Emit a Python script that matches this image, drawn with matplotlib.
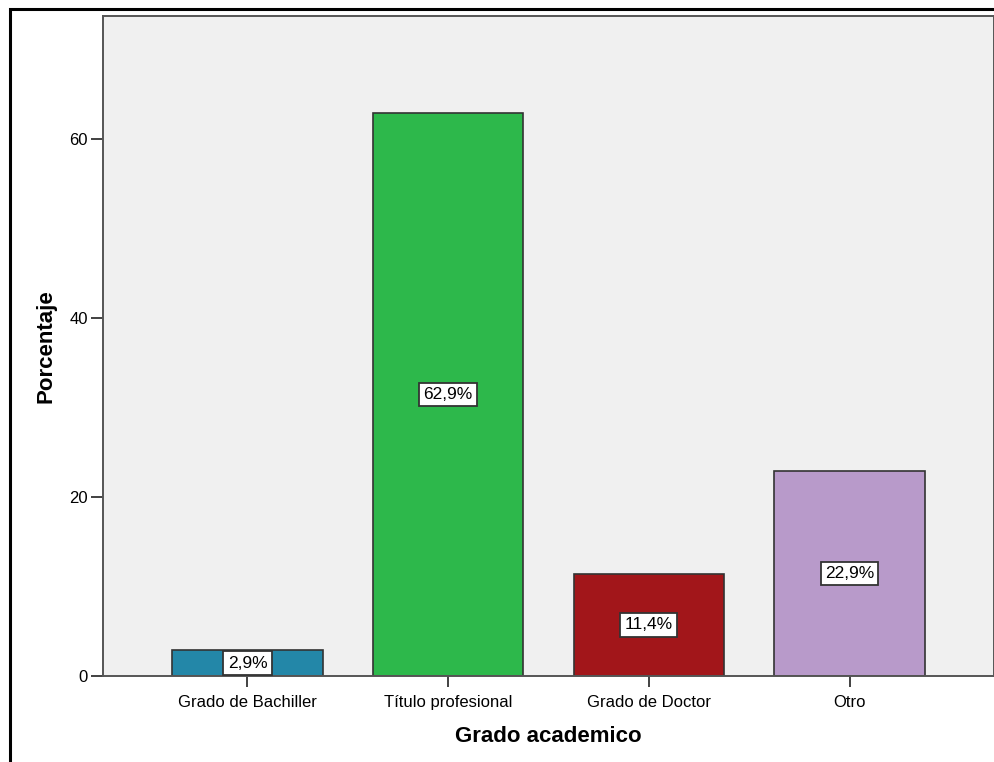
import matplotlib.pyplot as plt
from matplotlib.patches import Rectangle

plt.rcParams['font.family'] = ['Liberation Sans', 'DejaVu Sans']

categories = ['Grado de Bachiller', 'Título profesional', 'Grado de Doctor', 'Otro']
percentages = [2.9, 62.9, 11.4, 22.9]
bar_colors = ['#2387A8', '#2DB84B', '#A2161A', '#B89ACA']
y_ticks = [0, 20, 40, 60]

W, H = 995, 762
fig = plt.figure(figsize=(W / 100, H / 100), dpi=100, facecolor='white')

# black frame around the chart
fig.add_artist(Rectangle((10 / W, -0.01), 1.0, 1 - 9 / H + 0.01, transform=fig.transFigure,
                         fill=False, edgecolor='black', linewidth=2.2))

left, right, top, bottom = 103, 994, 16, 676
ax = fig.add_axes([left / W, 1 - bottom / H, (right - left) / W, (bottom - top) / H])
ax.set_facecolor('#F0F0F0')

x = range(len(categories))
bars = ax.bar(x, percentages, width=0.75, color=bar_colors, edgecolor='#333333', linewidth=1.2, zorder=2)

for i, v in enumerate(percentages):
    ax.text(i, v / 2, ('%.1f%%' % v).replace('.', ','), ha='center', va='center', fontsize=12.5,
            color='black', zorder=3,
            bbox=dict(boxstyle='square,pad=0.25', facecolor='white', edgecolor='#333333', linewidth=1.3))

ax.set_xlim(-0.72, 3.72)
ax.set_ylim(0, 73.7)
ax.set_xticks(list(x))
ax.set_xticklabels(categories, fontsize=12)
ax.set_yticks(y_ticks)
ax.tick_params(axis='y', labelsize=12, length=9, width=1.3, color='#333333', pad=2)
ax.tick_params(axis='x', length=8, width=1.3, color='#333333', pad=6)

for side in ['left', 'top', 'bottom', 'right']:
    ax.spines[side].set_color('#555555')
    ax.spines[side].set_linewidth(1.4)

ax.set_xlabel('Grado academico', fontsize=16, fontweight='bold', labelpad=11)
ax.set_ylabel('Porcentaje', fontsize=16, fontweight='bold', labelpad=9)

fig.savefig('out.png', dpi=100)
